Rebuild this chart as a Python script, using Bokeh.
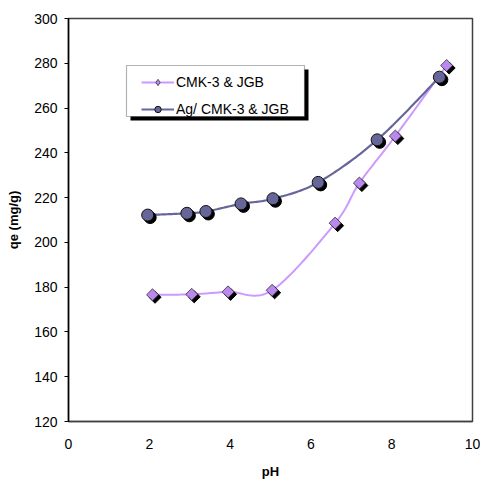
import numpy as np
from bokeh.plotting import figure
from bokeh.models import Legend, LegendItem, BoxAnnotation, FixedTicker, Range1d
from bokeh.embed import file_html
from bokeh.resources import INLINE

# Data
ph_cmk = [2.08, 3.05, 3.95, 5.04, 6.60, 7.20, 8.09, 9.36]
qe_cmk = [176.6, 176.8, 177.9, 178.6, 208.6, 226.5, 247.5, 279.0]
ph_ag = [1.96, 2.93, 3.40, 4.27, 5.06, 6.18, 7.64, 9.18]
qe_ag = [212.2, 213.0, 213.8, 217.2, 219.5, 226.8, 245.8, 273.8]
x_ticks = [0, 2, 4, 6, 8, 10]
y_ticks = [120, 140, 160, 180, 200, 220, 240, 260, 280, 300]

FONT = "Liberation Sans"


def smooth(xs, ys, n=30):
    """Catmull-Rom (Excel-like) smoothing of a polyline."""
    x = np.asarray(xs, float)
    y = np.asarray(ys, float)
    px = np.concatenate([[x[0]], x, [x[-1]]])
    py = np.concatenate([[y[0]], y, [y[-1]]])
    ox, oy = [], []
    t = np.linspace(0, 1, n)
    for i in range(1, len(px) - 2):
        p0x, p1x, p2x, p3x = px[i - 1], px[i], px[i + 1], px[i + 2]
        p0y, p1y, p2y, p3y = py[i - 1], py[i], py[i + 1], py[i + 2]
        c1x = p1x + (p2x - p0x) / 6
        c1y = p1y + (p2y - p0y) / 6
        c2x = p2x - (p3x - p1x) / 6
        c2y = p2y - (p3y - p1y) / 6
        bx = (1 - t) ** 3 * p1x + 3 * (1 - t) ** 2 * t * c1x + 3 * (1 - t) * t ** 2 * c2x + t ** 3 * p2x
        by = (1 - t) ** 3 * p1y + 3 * (1 - t) ** 2 * t * c1y + 3 * (1 - t) * t ** 2 * c2y + t ** 3 * p2y
        ox.extend(bx.tolist())
        oy.extend(by.tolist())
    return ox, oy


p = figure(width=480, height=482, output_backend="svg", toolbar_location=None,
           x_range=Range1d(0, 10), y_range=Range1d(120, 300),
           min_border_left=68, min_border_right=8, min_border_top=18, min_border_bottom=61)
p.xgrid.visible = False
p.ygrid.visible = False
p.outline_line_color = "#404040"
p.outline_line_width = 1.5
p.background_fill_color = "white"
p.border_fill_color = "white"

# scale (px per data unit) for shadows
kx = 404 / 10.0
ky = 403 / 180.0
dx = 2.5 / kx
dy = -2.5 / ky

col_cmk = "#CC99FF"
col_ag = "#666699"

# legend frame (shadow + white box)
p.add_layout(BoxAnnotation(left=(127 - 69 + 4) / kx, right=(305 - 69 + 4) / kx,
                           top=300 - (66 - 19 + 4) / ky, bottom=300 - (117 - 19 + 4) / ky,
                           fill_color="black", fill_alpha=1, line_color=None))
p.add_layout(BoxAnnotation(left=(127 - 69) / kx, right=(305 - 69) / kx,
                           top=300 - (66 - 19) / ky, bottom=300 - (117 - 19) / ky,
                           fill_color="white", fill_alpha=1, line_color="black", line_width=1.2))

sx, sy = smooth(ph_cmk, qe_cmk)
l1 = p.line(sx, sy, line_color=col_cmk, line_width=2)
ax, ay = smooth(ph_ag, qe_ag)
l2 = p.line(ax, ay, line_color=col_ag, line_width=2.2)

# diamond glyph used for the legend (covered by the square-diamonds below)
m1 = p.scatter(ph_cmk, qe_cmk, marker="diamond", size=10, fill_color="#BB88F0",
               line_color="#333333", line_width=0.8)
p.scatter([v + dx for v in ph_cmk], [v + dy for v in qe_cmk], marker="square", angle=np.pi / 4,
          size=8.5, fill_color="black", line_color="black")
p.scatter(ph_cmk, qe_cmk, marker="square", angle=np.pi / 4, size=8.5, fill_color="#BB88F0",
          line_color="#333333", line_width=0.8)
p.scatter([v + dx for v in ph_ag], [v + dy for v in qe_ag], marker="circle", size=12,
          fill_color="black", line_color="black")
m2 = p.scatter(ph_ag, qe_ag, marker="circle", size=12, fill_color=col_ag,
               line_color="#111111", line_width=1)

legend = Legend(items=[LegendItem(label="CMK-3 & JGB", renderers=[l1, m1]),
                       LegendItem(label="Ag/ CMK-3 & JGB", renderers=[l2, m2])],
                location=(73, 304))
legend.label_text_font = FONT
legend.label_text_font_size = "14px"
legend.label_text_color = "black"
legend.border_line_color = None
legend.background_fill_alpha = 0
legend.glyph_width = 33
legend.glyph_height = 16
legend.label_height = 16
legend.label_standoff = 2
legend.spacing = 11
legend.padding = 4
legend.margin = 0
p.add_layout(legend, "center")

p.xaxis.ticker = FixedTicker(ticks=x_ticks)
p.yaxis.ticker = FixedTicker(ticks=y_ticks)
p.xaxis.minor_tick_line_color = None
p.yaxis.minor_tick_line_color = None
p.xaxis.major_tick_line_color = None
p.xaxis.major_label_standoff = 11
p.yaxis.major_tick_in = 0
p.yaxis.major_tick_out = 4
p.yaxis.major_label_standoff = 7
p.yaxis.axis_line_color = "black"
p.yaxis.axis_line_width = 1.5
p.xaxis.axis_line_color = "#404040"
p.xaxis.axis_line_width = 1.5
for a in (p.xaxis, p.yaxis):
    a.major_label_text_font = FONT
    a.major_label_text_font_size = "14px"
    a.major_label_text_color = "black"
    a.axis_label_text_font = FONT
    a.axis_label_text_font_size = "13px"
    a.axis_label_text_font_style = "bold"
    a.axis_label_text_color = "black"
p.xaxis.axis_label = "pH"
p.yaxis.axis_label = "qe (mg/g)"
p.xaxis.axis_label_standoff = 12
p.yaxis.axis_label_standoff = 10

open("out.html", "w").write(file_html(p, INLINE))
